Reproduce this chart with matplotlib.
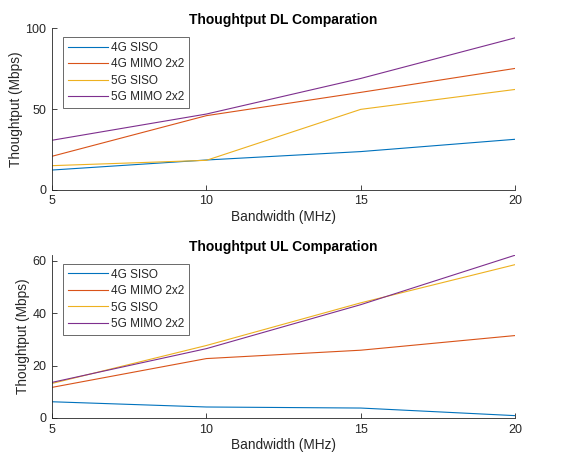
import matplotlib.pyplot as plt

bw = [5, 10, 15, 20]
series = ["4G SISO", "4G MIMO 2x2", "5G SISO", "5G MIMO 2x2"]
colors = ["#0072BD", "#D95319", "#EDB120", "#7E2F8E"]

dl_4g_siso = [12.3, 18.5, 23.7, 31.3]
dl_4g_mimo = [20.8, 45.9, 60.3, 75.1]
dl_5g_siso = [15.0, 18.3, 49.8, 62.1]
dl_5g_mimo = [30.7, 46.9, 68.9, 94.0]

ul_4g_siso = [6.2, 4.2, 3.8, 0.9]
ul_4g_mimo = [11.7, 22.7, 25.9, 31.5]
ul_5g_siso = [13.2, 27.7, 44.0, 58.6]
ul_5g_mimo = [13.6, 26.5, 43.3, 62.2]

plt.rcParams['font.family'] = ['Liberation Sans', 'DejaVu Sans']
plt.rcParams['font.size'] = 8
axcol = "#262626"

fig = plt.figure(figsize=(5.63, 4.61), dpi=100)
ax1 = fig.add_axes([0.0924, 0.588, 0.8226, 0.351])
ax2 = fig.add_axes([0.0924, 0.0933, 0.8226, 0.3537])


def style(ax, title, ymax, yticks):
    ax.set_xlim(5, 20)
    ax.set_ylim(0, ymax)
    ax.set_xticks(bw)
    ax.set_yticks(yticks)
    for s in ["top", "right"]:
        ax.spines[s].set_visible(False)
    for s in ["left", "bottom"]:
        ax.spines[s].set_color(axcol)
        ax.spines[s].set_linewidth(0.6)
    ax.tick_params(direction="in", length=3.5, width=0.6, colors=axcol,
                   labelsize=9, pad=4)
    ax.set_title(title, fontweight="bold", fontsize=10, color="black", pad=3)
    ax.set_xlabel("Bandwidth (MHz)", fontsize=9.8, color=axcol, labelpad=2)
    ax.set_ylabel("Thoughtput (Mbps)", fontsize=9.8, color=axcol, labelpad=2)
    leg = ax.legend(loc="upper left", bbox_to_anchor=(0.024, 0.945),
                    fancybox=False, fontsize=8.5, handlelength=3.4,
                    borderpad=0.4, labelspacing=0.38, handletextpad=0.25,
                    borderaxespad=0)
    leg.get_frame().set_edgecolor(axcol)
    leg.get_frame().set_linewidth(0.6)
    for t in leg.get_texts():
        t.set_color(axcol)


for y, lab, c in zip([dl_4g_siso, dl_4g_mimo, dl_5g_siso, dl_5g_mimo], series, colors):
    ax1.plot(bw, y, color=c, lw=0.8, label=lab)
style(ax1, "Thoughtput DL Comparation", 100, [0, 50, 100])

for y, lab, c in zip([ul_4g_siso, ul_4g_mimo, ul_5g_siso, ul_5g_mimo], series, colors):
    ax2.plot(bw, y, color=c, lw=0.8, label=lab)
style(ax2, "Thoughtput UL Comparation", 62.3, [0, 20, 40, 60])

fig.savefig("out.png", dpi=100)
